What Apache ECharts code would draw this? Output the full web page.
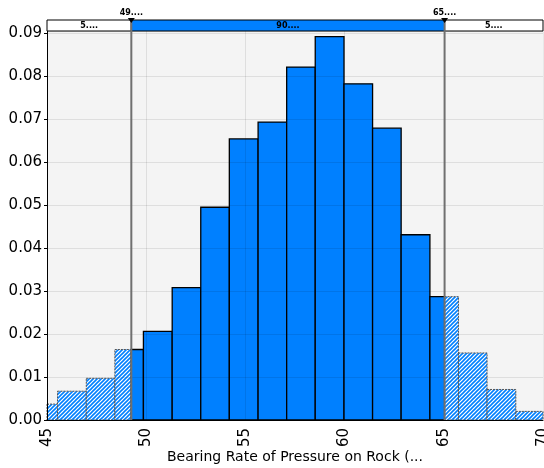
<!DOCTYPE html>
<html>
<head>
<meta charset="utf-8">
<script src="https://cdn.jsdelivr.net/npm/echarts@6/dist/echarts.min.js"></script>
<style>
  html, body { margin: 0; padding: 0; background: #fff; }
  #main { width: 544px; height: 468px; }
</style>
</head>
<body>
<div id="main"></div>
<script>
// bin edges and heights
const binEdges = [44.09, 45.53, 46.98, 48.42, 49.86, 51.31, 52.75, 54.19, 55.64, 57.08,
                  58.52, 59.97, 61.41, 62.85, 64.30, 65.74, 67.18, 68.63, 70.07];
const density = [0.0037, 0.0067, 0.0097, 0.0164, 0.0206, 0.0308, 0.0495, 0.0654, 0.0693,
                 0.0821, 0.0892, 0.0782, 0.0679, 0.0431, 0.0287, 0.0156, 0.0071, 0.0020];
const delimiters = [49.25, 65.04];
const delimiterLabels = ['49....', '65....'];
const bandLabels = ['5....', '90....', '5....'];
const xMin = 45, xMax = 70, yMax = 0.0905;

const BLUE = '#0080ff';

// hatch pattern for the tails
const tile = document.createElement('canvas');
tile.width = 4; tile.height = 4;
const tctx = tile.getContext('2d');
tctx.fillStyle = '#ffffff';
tctx.fillRect(0, 0, 4, 4);
tctx.strokeStyle = BLUE;
tctx.lineWidth = 1.6;
tctx.beginPath();
tctx.moveTo(-1, 1); tctx.lineTo(1, -1);
tctx.moveTo(-1, 5); tctx.lineTo(5, -1);
tctx.moveTo(3, 5); tctx.lineTo(5, 3);
tctx.stroke();
const hatch = { image: tile, repeat: 'repeat' };

const bins = density.map((d, i) => [binEdges[i], binEdges[i + 1], d]);

function renderBin(params, api) {
  const x0 = Math.max(api.value(0), xMin);
  const x1 = Math.min(api.value(1), xMax);
  const h = api.value(2);
  const cuts = [x0].concat(delimiters.filter(d => d > x0 && d < x1), [x1]);
  const children = [];
  for (let k = 0; k < cuts.length - 1; k++) {
    const a = cuts[k], b = cuts[k + 1];
    const mid = (a + b) / 2;
    const inside = mid > delimiters[0] && mid < delimiters[1];
    const p0 = api.coord([a, h]);
    const p1 = api.coord([b, 0]);
    children.push({
      type: 'rect',
      shape: { x: p0[0], y: p0[1], width: p1[0] - p0[0], height: p1[1] - p0[1] },
      style: inside
        ? { fill: BLUE, stroke: '#000', lineWidth: 1.3 }
        : { fill: hatch, stroke: '#555', lineWidth: 1, lineDash: [2, 1] }
    });
  }
  return { type: 'group', children: children };
}

function renderBand(params, api) {
  const cs = params.coordSys;
  const top = cs.y - 11;
  const xs = [cs.x, api.coord([delimiters[0], 0])[0], api.coord([delimiters[1], 0])[0], cs.x + cs.width];
  const fills = ['#fff', BLUE, '#fff'];
  const children = [];
  for (let k = 0; k < 3; k++) {
    children.push({
      type: 'rect',
      shape: { x: xs[k], y: top, width: xs[k + 1] - xs[k], height: 11 },
      style: { fill: fills[k], stroke: '#000', lineWidth: 1 }
    });
    children.push({
      type: 'text',
      style: {
        text: bandLabels[k], x: (xs[k] + xs[k + 1]) / 2, y: top + 5.5,
        align: 'center', verticalAlign: 'middle',
        font: 'bold 8px "DejaVu Sans"', fill: '#000'
      }
    });
  }
  for (let k = 0; k < 2; k++) {
    const x = xs[k + 1];
    children.push({
      type: 'line',
      shape: { x1: x, y1: top, x2: x, y2: cs.y + cs.height },
      style: { stroke: '#707070', lineWidth: 2 }
    });
    children.push({
      type: 'polygon',
      shape: { points: [[x - 3.5, top - 2], [x + 3.5, top - 2], [x, top + 3]] },
      style: { fill: '#000' }
    });
    children.push({
      type: 'text',
      style: {
        text: delimiterLabels[k], x: x, y: top - 7,
        align: 'center', verticalAlign: 'middle',
        font: 'bold 8px "DejaVu Sans"', fill: '#000'
      }
    });
  }
  return { type: 'group', children: children };
}

const myChart = echarts.init(document.getElementById('main'));
myChart.setOption({
  animation: false,
  textStyle: { fontFamily: 'DejaVu Sans' },
  grid: {
    left: 47, right: 1, top: 31, bottom: 48,
    outerBoundsMode: 'none',
    show: true, backgroundColor: '#f4f4f4', borderWidth: 0
  },
  xAxis: {
    type: 'value',
    min: xMin, max: xMax, interval: 5,
    z: 3,
    name: 'Bearing Rate of Pressure on Rock (...',
    nameLocation: 'middle',
    nameGap: 30,
    nameMoveOverlap: false,
    nameTextStyle: { fontSize: 14, color: '#000', fontFamily: 'DejaVu Sans' },
    axisLine: { lineStyle: { color: '#000', width: 1 } },
    axisTick: { show: false },
    axisLabel: { rotate: 90, fontSize: 15, color: '#000', margin: 8 },
    splitLine: { show: true, lineStyle: { color: 'rgba(0,0,0,0.09)', width: 1 } }
  },
  yAxis: {
    type: 'value',
    min: 0, max: yMax, interval: 0.01,
    z: 3,
    axisLine: { show: true, lineStyle: { color: '#000', width: 1 } },
    axisTick: { show: true, length: 3, lineStyle: { color: '#000' } },
    axisLabel: {
      fontSize: 15, color: '#000', margin: 5, showMaxLabel: false,
      formatter: v => v.toFixed(2)
    },
    splitLine: { show: true, lineStyle: { color: 'rgba(0,0,0,0.09)', width: 1 } }
  },
  series: [
    {
      type: 'custom',
      z: 2,
      renderItem: renderBin,
      encode: { x: [0, 1], y: 2 },
      data: bins
    },
    {
      type: 'custom',
      z: 4,
      clip: false,
      renderItem: renderBand,
      encode: { x: 0, y: 1 },
      data: [[xMin, 0]]
    }
  ]
});
</script>
</body>
</html>
